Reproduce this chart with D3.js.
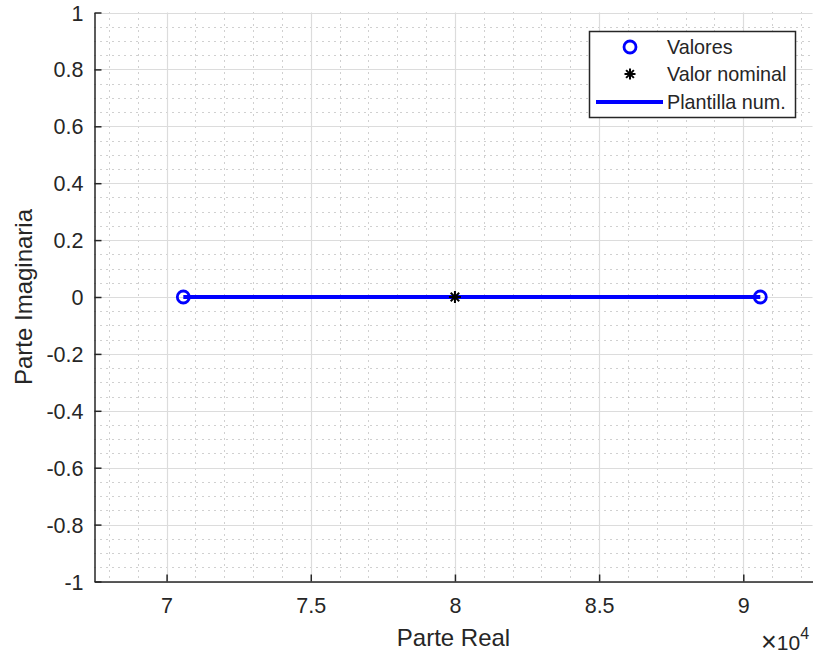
<!DOCTYPE html>
<html>
<head>
<meta charset="utf-8">
<script src="https://cdn.jsdelivr.net/npm/d3@7"></script>
<style>
  body { margin: 0; background: #fff; }
  text { font-family: "Liberation Sans", Arial, Helvetica, sans-serif; }
</style>
</head>
<body>
<svg id="chart" width="817" height="657"></svg>
<script>
// Measured values (real / imaginary parts)
const realValues = [70580, 90590];
const imagValues = [0, 0];
// Nominal value
const nominalReal = [80000];
const nominalImag = [0];
// Numeric template segment joining the measured values
const templateReal = [70580, 90590];
const templateImag = [0, 0];

const xTicks = [70000, 75000, 80000, 85000, 90000];
const xTickLabels = ["7", "7.5", "8", "8.5", "9"];
const yTicks = [-1, -0.8, -0.6, -0.4, -0.2, 0, 0.2, 0.4, 0.6, 0.8, 1];
const yTickLabels = ["-1", "-0.8", "-0.6", "-0.4", "-0.2", "0", "0.2", "0.4", "0.6", "0.8", "1"];
const legendLabels = ["Valores", "Valor nominal", "Plantilla num."];

const svg = d3.select("#chart");
const plotLeft = 94.5, plotRight = 812.5, plotTop = 12.5, plotBottom = 581.5;

const x = d3.scaleLinear().domain([67500, 92400]).range([plotLeft, plotRight]);
const y = d3.scaleLinear().domain([-1, 1]).range([plotBottom, plotTop]);

const axisColor = "#262626";
const blue = "#0000ff";

// Minor grid (dotted)
const xMinor = d3.range(68000, 92401, 1000).filter(v => v % 5000 !== 0);
const yMinor = d3.range(-20, 21).map(i => i * 0.05).filter(v => Math.abs(Math.round(v * 100)) % 20 !== 0);
const grid = svg.append("g");
grid.selectAll(".xminor").data(xMinor).join("line")
  .attr("x1", d => Math.round(x(d)) + 0.5).attr("x2", d => Math.round(x(d)) + 0.5)
  .attr("y1", plotTop).attr("y2", plotBottom)
  .attr("stroke", "#a0a0a0").attr("stroke-width", 1).attr("stroke-dasharray", "1,5");
grid.selectAll(".yminor").data(yMinor).join("line")
  .attr("y1", d => Math.round(y(d)) + 0.5).attr("y2", d => Math.round(y(d)) + 0.5)
  .attr("x1", plotLeft).attr("x2", plotRight)
  .attr("stroke", "#a0a0a0").attr("stroke-width", 1).attr("stroke-dasharray", "1,5");

// Major grid
grid.selectAll(".xmajor").data(xTicks).join("line")
  .attr("x1", d => Math.round(x(d)) + 0.5).attr("x2", d => Math.round(x(d)) + 0.5)
  .attr("y1", plotTop).attr("y2", plotBottom)
  .attr("stroke", "#dcdcdc").attr("stroke-width", 1.2);
grid.selectAll(".ymajor").data(yTicks).join("line")
  .attr("y1", d => Math.round(y(d)) + 0.5).attr("y2", d => Math.round(y(d)) + 0.5)
  .attr("x1", plotLeft).attr("x2", plotRight)
  .attr("stroke", "#dcdcdc").attr("stroke-width", 1.2);

// Axes (inward ticks, no box)
const xAxis = d3.axisBottom(x).tickValues(xTicks)
  .tickFormat((d, i) => xTickLabels[i]).tickSizeInner(-7).tickSizeOuter(0).tickPadding(16);
const yAxis = d3.axisLeft(y).tickValues(yTicks)
  .tickFormat((d, i) => yTickLabels[i]).tickSizeInner(-7).tickSizeOuter(0).tickPadding(11);

const gx = svg.append("g").attr("transform", `translate(0,${plotBottom})`).call(xAxis);
const gy = svg.append("g").attr("transform", `translate(${plotLeft},0)`).call(yAxis);
[gx, gy].forEach(g => {
  g.select(".domain").attr("stroke", axisColor).attr("stroke-width", 1.5);
  g.selectAll(".tick line").attr("stroke", axisColor).attr("stroke-width", 1.5);
  g.selectAll(".tick text").attr("fill", axisColor).attr("font-size", 21.5)
    .attr("font-family", '"Liberation Sans", Arial, sans-serif');
});
gy.selectAll(".tick text").attr("dy", "0.35em");

// Exponent label
const expo = svg.append("text").attr("x", 761).attr("y", 650).attr("fill", axisColor)
  .attr("font-size", 21);
expo.append("tspan").attr("font-size", 27).attr("dy", 1).text("\u00d7");
expo.append("tspan").attr("dy", -1).text("10");
expo.append("tspan").attr("font-size", 16).attr("dy", -11).text("4");

// Axis titles
svg.append("text").attr("x", (plotLeft + plotRight) / 2).attr("y", 646)
  .attr("text-anchor", "middle").attr("font-size", 24).attr("fill", axisColor)
  .text("Parte Real");
svg.append("text").attr("transform", `translate(32,${(plotTop + plotBottom) / 2}) rotate(-90)`)
  .attr("text-anchor", "middle").attr("font-size", 24).attr("fill", axisColor)
  .text("Parte Imaginaria");

// Data marks
const plot = svg.append("g");
plot.selectAll(".val").data(realValues).join("circle")
  .attr("cx", d => x(d)).attr("cy", (d, i) => y(imagValues[i])).attr("r", 6)
  .attr("fill", "none").attr("stroke", blue).attr("stroke-width", 2.8);

const line = d3.line().x(d => x(d[0])).y(d => y(d[1]));
plot.append("path").datum(templateReal.map((v, i) => [v, templateImag[i]]))
  .attr("d", line).attr("fill", "none").attr("stroke", blue).attr("stroke-width", 4);

function asterisk(g, cx, cy, s) {
  [0, 45, 90, 135].forEach(a => {
    const r = a * Math.PI / 180;
    g.append("line")
      .attr("x1", cx - s * Math.cos(r)).attr("y1", cy - s * Math.sin(r))
      .attr("x2", cx + s * Math.cos(r)).attr("y2", cy + s * Math.sin(r))
      .attr("stroke", "#000").attr("stroke-width", 2);
  });
}
nominalReal.forEach((v, i) => asterisk(plot, x(v), y(nominalImag[i]), 6));

// Legend
const lg = svg.append("g");
lg.append("rect").attr("x", 589.5).attr("y", 31.5).attr("width", 206).attr("height", 86)
  .attr("fill", "#fff").attr("stroke", axisColor).attr("stroke-width", 1.5);
const rowY = [47, 74, 102];
lg.append("circle").attr("cx", 630).attr("cy", rowY[0]).attr("r", 6)
  .attr("fill", "none").attr("stroke", blue).attr("stroke-width", 2.8);
asterisk(lg, 630, rowY[1], 5.5);
lg.append("line").attr("x1", 596).attr("x2", 663).attr("y1", rowY[2]).attr("y2", rowY[2])
  .attr("stroke", blue).attr("stroke-width", 4);
lg.selectAll(".lt").data(legendLabels).join("text")
  .attr("x", 667).attr("y", (d, i) => rowY[i]).attr("dy", "0.35em")
  .attr("font-size", 19.8).attr("fill", axisColor).text(d => d);
</script>
</body>
</html>
